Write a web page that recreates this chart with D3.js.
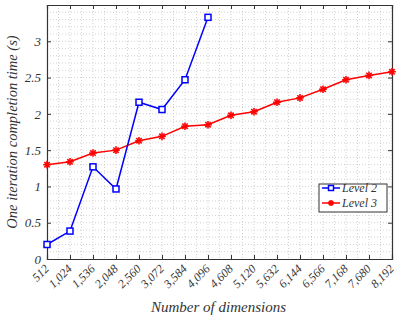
<!DOCTYPE html>
<html>
<head>
<meta charset="utf-8">
<script src="https://cdn.jsdelivr.net/npm/d3@7"></script>
<style>
  body { margin: 0; background: #fff; }
</style>
</head>
<body>
<div id="chart"></div>
<script>
// chart values
const dims = [512, 1024, 1536, 2048, 2560, 3072, 3584, 4096, 4608, 5120, 5632, 6144, 6566, 7168, 7680, 8192];
const level2 = [0.20, 0.385, 1.27, 0.965, 2.16, 2.06, 2.47, 3.33];
const level3 = [1.30, 1.34, 1.46, 1.50, 1.63, 1.69, 1.83, 1.85, 1.98, 2.03, 2.16, 2.22, 2.34, 2.47, 2.53, 2.58];
const yTicks = [0, 0.5, 1, 1.5, 2, 2.5, 3];

const FONT = 'Liberation Serif';
const width = 398, height = 320;
const margin = {top: 5, right: 6, bottom: 61, left: 47};
const w = width - margin.left - margin.right;
const h = height - margin.top - margin.bottom;

const svg = d3.select('#chart').append('svg').attr('width', width).attr('height', height);
const g = svg.append('g').attr('transform', `translate(${margin.left},${margin.top})`);

const x = d3.scalePoint().domain(d3.range(dims.length)).range([0, w]);
const y = d3.scaleLinear().domain([0, 3.5]).range([h, 0]);
const step = x.step();

// dotted grid (minor every half step on x, every 0.1 on y)
const grid = g.append('g').attr('stroke', '#c8c8c8').attr('stroke-dasharray', '1,2').attr('stroke-width', 0.8);
d3.range(0, dims.length - 0.5, 0.5).forEach(i => {
  if (i === 0) return;
  grid.append('line').attr('x1', i * step).attr('x2', i * step).attr('y1', 0).attr('y2', h);
});
d3.range(1, 35).forEach(k => {
  grid.append('line').attr('x1', 0).attr('x2', w).attr('y1', y(k / 10)).attr('y2', y(k / 10));
});

// axes
const xAxis = g.append('g').attr('transform', `translate(0,${h})`)
  .call(d3.axisBottom(x).tickSize(-4).tickFormat(i => d3.format(',')(dims[i])));
xAxis.selectAll('text')
  .attr('transform', 'rotate(-45)')
  .attr('text-anchor', 'end')
  .attr('x', -6).attr('y', 9).attr('dy', 0)
  .attr('font-size', 12);
g.append('g').call(d3.axisTop(x).tickSize(-4).tickFormat(''));

const yAxis = g.append('g').call(d3.axisLeft(y).tickValues(yTicks).tickSize(-4).tickPadding(6).tickFormat(d3.format('')));
yAxis.selectAll('text').attr('font-size', 13);
g.append('g').attr('transform', `translate(${w},0)`)
  .call(d3.axisRight(y).tickValues(yTicks).tickSize(-4).tickFormat(''));

g.selectAll('.domain').attr('stroke', '#333').attr('stroke-width', 1.2);
g.selectAll('.tick line').attr('stroke', '#333');

// series lines
const line = d3.line().x((d, i) => x(i)).y(d => y(d));
g.append('path').datum(level3).attr('d', line)
  .attr('fill', 'none').attr('stroke', '#ff0000').attr('stroke-width', 1.5);
g.append('path').datum(level2).attr('d', line)
  .attr('fill', 'none').attr('stroke', '#0000ff').attr('stroke-width', 1.5);

function star(sel, cx, cy, r) {
  const s = sel.append('g').attr('transform', `translate(${cx},${cy})`)
    .attr('stroke', '#ff0000').attr('stroke-width', 1.6);
  [0, 45, 90, 135].forEach(a => {
    const dx = r * Math.cos(a * Math.PI / 180), dy = r * Math.sin(a * Math.PI / 180);
    s.append('line').attr('x1', -dx).attr('y1', -dy).attr('x2', dx).attr('y2', dy);
  });
}
function square(sel, cx, cy, s) {
  sel.append('rect').attr('x', cx - s / 2).attr('y', cy - s / 2).attr('width', s).attr('height', s)
    .attr('fill', '#fff').attr('stroke', '#0000ff').attr('stroke-width', 1.5);
}
level3.forEach((d, i) => star(g, x(i), y(d), 3.8));
level2.forEach((d, i) => square(g, x(i), y(d), 6));

// legend
const lg = svg.append('g').attr('transform', 'translate(319,184)');
lg.append('rect').attr('width', 68).attr('height', 28).attr('fill', '#fff').attr('stroke', '#333').attr('stroke-width', 1);
lg.append('line').attr('x1', 3).attr('x2', 21).attr('y1', 4).attr('y2', 4)
  .attr('stroke', '#0000ff').attr('stroke-width', 1.5);
square(lg, 12, 4, 5);
lg.append('line').attr('x1', 3).attr('x2', 21).attr('y1', 19).attr('y2', 19)
  .attr('stroke', '#ff0000').attr('stroke-width', 1.5);
star(lg, 12, 19, 3);
lg.append('text').attr('x', 23).attr('y', 8).attr('font-size', 12).text('Level 2');
lg.append('text').attr('x', 23).attr('y', 23).attr('font-size', 12).text('Level 3');

// axis titles
svg.append('text').attr('x', margin.left + w / 2 - 1).attr('y', 312).attr('text-anchor', 'middle')
  .attr('font-size', 15).text('Number of dimensions');
svg.append('text').attr('transform', `translate(17,${margin.top + h / 2}) rotate(-90)`)
  .attr('text-anchor', 'middle').attr('font-size', 14.5).text('One iteration completion time (s)');

// serif italic on every text, set as attributes
svg.selectAll('text').attr('font-family', FONT).attr('font-style', 'italic').attr('fill', '#333');
</script>
</body>
</html>
